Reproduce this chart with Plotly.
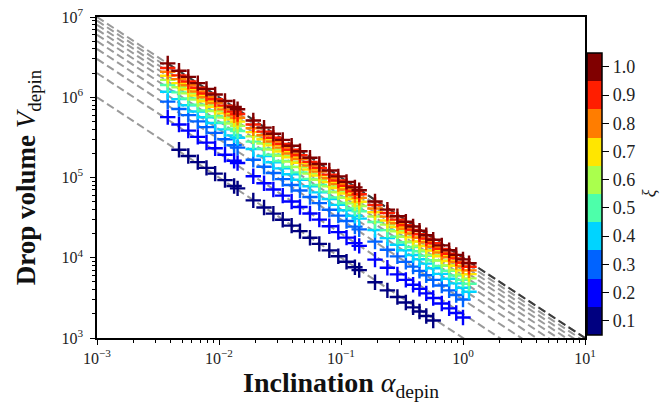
import plotly.graph_objects as go

# ---------------- data ----------------
xi_levels = [0.1, 0.2, 0.3, 0.4, 0.5, 0.6, 0.7, 0.8, 0.9, 1.0]
xi_colors = ["#000080", "#0000ff", "#0063ff", "#00d4ff", "#4dffaa",
             "#aaff4d", "#ffe600", "#ff7d00", "#ff1e00", "#800000"]

alpha = [0.0038, 0.0047, 0.0056, 0.0067, 0.0079, 0.0093, 0.0112, 0.0133, 0.0142,
         0.0191, 0.0234, 0.0279, 0.0333, 0.0394, 0.0461, 0.0557, 0.0664, 0.0802, 0.0950, 0.111, 0.130, 0.141,
         0.19, 0.24, 0.29, 0.34, 0.39, 0.44, 0.50, 0.57, 0.67, 0.77, 0.88, 1.0, 1.12]

N = None
V_01 = [N, 221300, 185700, 155300, 131700, 111800, 92860, 78200, 73240,
        51840, 42310, 35480, 29730, 25130, 21470, 17770, 14910, 12350, 10420, 8919, 7615, 7021,
        4947, 3917, 3241, 2765, 2410, 2137, 1880, 1649, N, N, N, N, N]
V_02 = [565900, 457500, 384000, 321000, 272200, 231100, 192000, 161700, 151400,
        103700, 84630, 70960, 59460, 50250, 42950, 35540, 29820, 24690, 20850, 17840, 15230, 14040,
        9473, 7501, 6206, 5294, 4615, 4091, 3600, 3157, 2687, 2338, 2045, 1800, N]
V_03 = [881700, 712900, 598300, 500200, 424100, 360100, 299100, 251900, 235900,
        166500, 135900, 114000, 95500, 80710, 68970, 57080, 47890, 39650, 33490, 28650, 24460, 22550,
        15890, 12580, 10410, 8882, 7743, 6864, 6040, 5297, 4509, 3923, 3431, 3020, N]
V_04 = [1171000, 947000, 794800, 664400, 563400, 478400, 397300, 334600, 313400,
        226700, 185100, 155200, 130000, 109900, 93920, 77720, 65210, 54000, 45590, 39010, 33310, 30710,
        22210, 17580, 14550, 12410, 10820, 9592, 8440, 7402, 6300, 5482, 4794, 4220, 3768]
V_05 = [1421000, 1149000, 964400, 806200, 683600, 580500, 482200, 406000, 380300,
        280100, 228700, 191700, 160700, 135800, 116000, 96030, 80570, 66710, 56340, 48200, 41150, 37940,
        27890, 22090, 18270, 15590, 13590, 12050, 10600, 9296, 7913, 6885, 6021, 5300, 4733]
V_06 = [1645000, 1330000, 1116000, 933100, 791300, 671900, 558100, 469900, 440100,
        325700, 265800, 222900, 186800, 157900, 134900, 111600, 93670, 77560, 65500, 56040, 47840, 44110,
        32630, 25840, 21380, 18230, 15900, 14090, 12400, 10870, 9257, 8054, 7043, 6200, 5537]
V_07 = [1856000, 1500000, 1259000, 1053000, 892500, 757900, 629500, 530100, 496500,
        367600, 300000, 251600, 210800, 178200, 152300, 126000, 105700, 87540, 73920, 63240, 54000, 49790,
        36840, 29170, 24140, 20590, 17950, 15910, 14000, 12280, 10450, 9093, 7952, 7000, 6251]
V_08 = [2079000, 1681000, 1411000, 1179000, 1000000, 849300, 705400, 594000, 556300,
        411000, 335500, 281300, 235700, 199200, 170300, 140900, 118200, 97890, 82660, 70720, 60380, 55670,
        41050, 32500, 26890, 22940, 20000, 17730, 15600, 13680, 11650, 10130, 8861, 7800, 6965]
V_09 = [2316000, 1873000, 1572000, 1314000, 1114000, 946000, 785800, 661700, 619700,
        456600, 372700, 312500, 261900, 221300, 189100, 156500, 131300, 108700, 91820, 78560, 67070, 61840,
        45520, 36040, 29830, 25440, 22180, 19660, 17300, 15170, 12910, 11240, 9826, 8650, 7724]
V_10 = [2645000, 2139000, 1795000, 1500000, 1272000, 1080000, 897400, 755700, 707700,
        513100, 418900, 351200, 294300, 248700, 212600, 175900, 147600, 122200, 103200, 88290, 75380, 69500,
        50260, 39790, 32930, 28090, 24490, 21710, 19100, 16750, 14260, 12410, 10850, 9550, 8528]

series_V = [V_01, V_02, V_03, V_04, V_05, V_06, V_07, V_08, V_09, V_10]

# reference lines  V = C / alpha
line_alpha = [1e-3, 1e1]
line_coeff = [1e3, 2e3, 3e3, 4e3, 5e3, 6e3, 7e3, 8e3, 9e3, 1e4]

x_tickvals = [1e-3, 1e-2, 1e-1, 1e0, 1e1]
x_ticktext = ["10<sup>−3</sup>", "10<sup>−2</sup>", "10<sup>−1</sup>", "10<sup>0</sup>", "10<sup>1</sup>"]
y_tickvals = [1e3, 1e4, 1e5, 1e6, 1e7]
y_ticktext = ["10<sup>3</sup>", "10<sup>4</sup>", "10<sup>5</sup>", "10<sup>6</sup>", "10<sup>7</sup>"]

cbar_ticks = [0.1, 0.2, 0.3, 0.4, 0.5, 0.6, 0.7, 0.8, 0.9, 1.0]
cbar_text = ["0.1", "0.2", "0.3", "0.4", "0.5", "0.6", "0.7", "0.8", "0.9", "1.0"]

FONT = "Liberation Serif"

fig = go.Figure()

for c in line_coeff:
    fig.add_trace(go.Scatter(
        x=line_alpha, y=[c / a for a in line_alpha], mode="lines",
        line=dict(color="#9a9a9a", width=2, dash="8px,4px"),
        hoverinfo="skip", showlegend=False))

# darker overlay of the top reference line from the data range onwards
top_alpha = [alpha[0], line_alpha[-1]]
fig.add_trace(go.Scatter(
    x=top_alpha, y=[line_coeff[-1] / a for a in top_alpha], mode="lines",
    line=dict(color="#3c3c3c", width=2, dash="8px,4px"),
    hoverinfo="skip", showlegend=False))

for xi, col, V in zip(xi_levels, xi_colors, series_V):
    fig.add_trace(go.Scatter(
        x=alpha, y=V, mode="markers",
        marker=dict(symbol="cross-thin", size=11, color=col,
                    line=dict(width=2.4, color=col)),
        showlegend=False, name=f"xi={xi}"))

# discrete jet colorscale
cs = []
n = len(xi_colors)
for i, col in enumerate(xi_colors):
    cs.append([i / n, col])
    cs.append([(i + 1) / n, col])

fig.add_trace(go.Scatter(
    x=[None], y=[None], mode="markers",
    marker=dict(color=[0.5], colorscale=cs, cmin=0.05, cmax=1.05, showscale=True,
                colorbar=dict(
                    x=1.004, xanchor="left", xpad=0,
                    y=0.01, yanchor="bottom", len=0.88, lenmode="fraction", ypad=0,
                    thickness=15, outlinewidth=1.5, outlinecolor="black",
                    tickmode="array", tickvals=cbar_ticks, ticktext=cbar_text,
                    ticks="outside", ticklen=7, tickwidth=1.2, tickcolor="black",
                    tickfont=dict(family=FONT, size=18, color="#222"))),
    showlegend=False, hoverinfo="skip"))

fig.add_annotation(xref="paper", yref="paper", x=1.13, y=0.452,
                   xanchor="center", yanchor="middle",
                   text="<i>ξ</i>", showarrow=False, textangle=-90,
                   font=dict(family=FONT, size=18, color="#222"))

axis_common = dict(
    type="log", showgrid=False, zeroline=False, showline=True, linecolor="black",
    linewidth=1.6, mirror=True, ticks="outside", ticklen=5, tickwidth=1.2,
    tickcolor="black", automargin=False,
    tickfont=dict(family=FONT, size=16, color="#222"),
    minor=dict(ticks="outside", ticklen=3, tickwidth=0.8, tickcolor="black", dtick="D1", showgrid=False),
)

fig.update_xaxes(**axis_common, range=[-3, 1], tickmode="array",
                 tickvals=x_tickvals, ticktext=x_ticktext,
                 title=dict(text="<b>Inclination</b> <i>α</i><sub>depin</sub>",
                            font=dict(family=FONT, size=28, color="#111"), standoff=0))
fig.update_yaxes(**axis_common, range=[3, 7], tickmode="array",
                 tickvals=y_tickvals, ticktext=y_ticktext, ticklabelstandoff=4,
                 title=dict(text="<b>Drop volume</b> <i>V</i><sub>depin</sub>",
                            font=dict(family=FONT, size=27, color="#111"), standoff=18))

fig.update_layout(
    width=671, height=403,
    margin=dict(l=97, r=86, t=17, b=65, autoexpand=False),
    paper_bgcolor="white", plot_bgcolor="white",
    font=dict(family=FONT),
)

fig.write_html("out.html", config={"displayModeBar": False},
               post_script="document.body.style.margin='0';")
